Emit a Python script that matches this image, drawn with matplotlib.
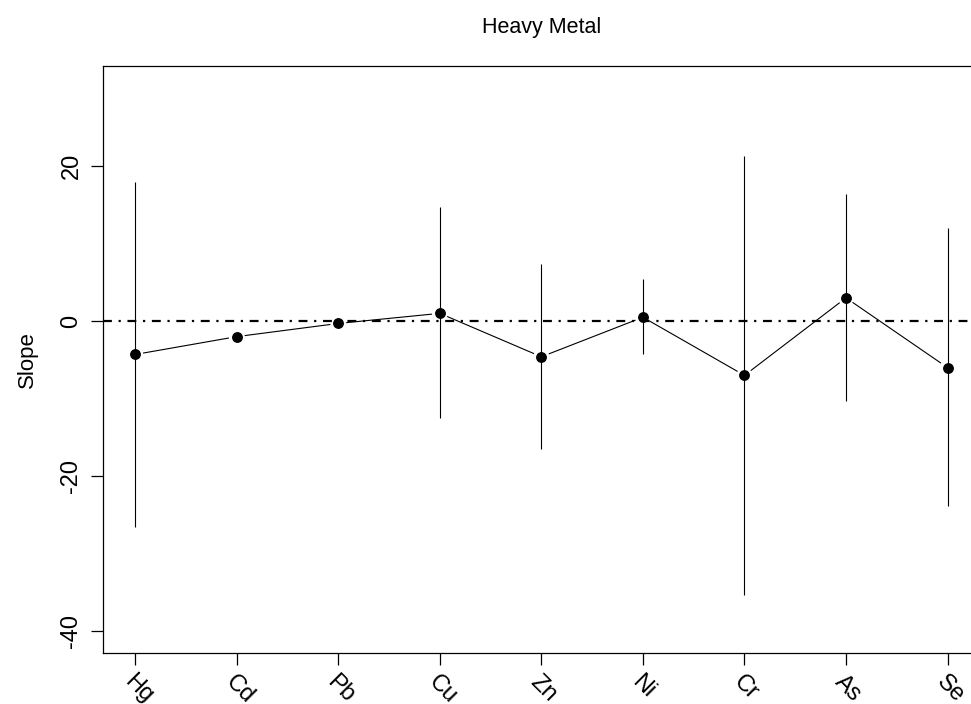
"""
Heavy metal slopes with confidence ranges (R base-graphics look).
Writes: out.png
"""
import matplotlib
matplotlib.use("Agg")
import matplotlib.pyplot as plt
import numpy as np

plt.rcParams["font.family"] = ["Liberation Sans", "DejaVu Sans"]

metals = ["Hg", "Cd", "Pb", "Cu", "Zn", "Ni", "Cr", "As", "Se"]
slope = [-4.3, -2.0, -0.3, 1.0, -4.6, 0.5, -7.0, 3.0, -6.0]
upper = [17.9, np.nan, np.nan, 14.7, 7.4, 5.4, 21.3, 16.4, 12.0]
lower = [-26.5, np.nan, np.nan, -12.5, -16.5, -4.3, -35.3, -10.3, -23.9]
yticks = [-40, -20, 0, 20]

DPI = 100
fig = plt.figure(figsize=(9.71, 7.04), dpi=DPI)
# right spine falls just outside the picture, as in the reference
ax = fig.add_axes([0.1058, 0.0724, 0.9035, 0.8339])

x = np.arange(1, len(metals) + 1)
ax.set_xlim(0.68, len(metals) + 0.32)
ax.set_ylim(-42.8, 32.9)

# error bars
for xi, lo, hi in zip(x, lower, upper):
    if np.isnan(lo):
        continue
    ax.plot([xi, xi], [lo, hi], color="black", lw=0.8, solid_capstyle="butt")

# zero line (R lty = 4, lwd = 2)
ax.axhline(0, color="black", lw=1.6, linestyle=(0, (4, 3, 1, 3)))

# connecting line with gaps around the points (type = "b")
gap = 8.5  # pixels
pts = ax.transData.transform(np.column_stack([x, slope]))
inv = ax.transData.inverted()
for p0, p1 in zip(pts[:-1], pts[1:]):
    d = p1 - p0
    u = d / np.hypot(*d)
    a, b = inv.transform(np.vstack([p0 + u * gap, p1 - u * gap]))
    ax.plot([a[0], b[0]], [a[1], b[1]], color="black", lw=0.8)

ax.plot(x, slope, "o", color="black", markersize=6.8, zorder=5)

# axes styling
for side in ["left", "bottom", "top", "right"]:
    ax.spines[side].set_linewidth(0.9)
ax.set_yticks(yticks)
ax.set_yticklabels([str(v) for v in yticks], rotation=90, va="center",
                   fontsize=17)
ax.set_xticks(x)
ax.set_xticklabels(metals, rotation=-45, ha="left", rotation_mode="anchor",
                   fontsize=17)
for lbl in ax.get_xticklabels():
    lbl.set_x(lbl.get_position()[0])
ax.tick_params(axis="both", direction="out", length=8.6, width=0.9,
               color="black")
ax.tick_params(axis="x", pad=4)
ax.tick_params(axis="y", pad=6)
ax.set_ylabel("Slope", fontsize=16, labelpad=16)
fig.text((0.1058 + 1.0093) / 2, 1 - 28 / 704, "Heavy Metal",
         ha="center", va="center", fontsize=15.5)

fig.savefig("out.png", dpi=DPI)
